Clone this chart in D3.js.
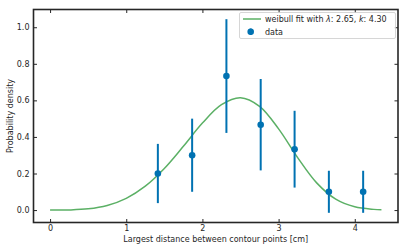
<!DOCTYPE html>
<html><head><meta charset="utf-8">
<script src="https://cdn.jsdelivr.net/npm/d3@7"></script>
<style>
html,body{margin:0;padding:0;background:#fff;}
svg text{font-family:"DejaVu Sans",sans-serif;}
</style></head>
<body><svg id="c" width="407" height="252"></svg>
<script>
// data points (bin centres), densities and error bars
const binX = [1.415, 1.865, 2.315, 2.765, 3.21, 3.66, 4.11];
const density = [0.200, 0.300, 0.733, 0.467, 0.333, 0.100, 0.100];
const errors = [0.162, 0.200, 0.311, 0.250, 0.210, 0.115, 0.115];
// weibull fit curve samples (lambda 2.65, k 4.30)
const fitX = [0, 0.25, 0.5, 0.75, 1.0, 1.25, 1.5, 1.75, 2.0, 2.25, 2.5, 2.75, 3.0, 3.25, 3.5, 3.75, 4.0, 4.25, 4.35];
const fitY = [0, 0.0007, 0.0066, 0.0251, 0.0641, 0.1306, 0.2275, 0.3489, 0.4758, 0.5765, 0.6147, 0.5676, 0.4443, 0.2872, 0.1488, 0.0596, 0.0178, 0.0038, 0.0018];
const xTicks = [0, 1, 2, 3, 4];
const yTicks = [0.0, 0.2, 0.4, 0.6, 0.8, 1.0];

const svg = d3.select("#c");
const L = 33.5, R = 398, T = 9.5, B = 222.5;
const x = d3.scaleLinear().domain([-0.2175, 4.5675]).range([L, R]);
const y = d3.scaleLinear().domain([-0.068, 1.097]).range([B, T]);
const dark = "#262626";
const blue = "#0072B2", green = "#5bb065";

// curve
const line = d3.line().x((d,i)=>x(fitX[i])).y((d,i)=>y(fitY[i])).curve(d3.curveCatmullRom);
svg.append("path").datum(fitY).attr("d", line).attr("fill","none")
  .attr("stroke", green).attr("stroke-width", 1.5);

// error bars
svg.append("g").selectAll("line").data(binX).join("line")
  .attr("x1", d=>x(d)).attr("x2", d=>x(d))
  .attr("y1", (d,i)=>y(density[i]-errors[i])).attr("y2", (d,i)=>y(density[i]+errors[i]))
  .attr("stroke", blue).attr("stroke-width", 2);
svg.append("g").selectAll("circle").data(binX).join("circle")
  .attr("cx", d=>x(d)).attr("cy", (d,i)=>y(density[i])).attr("r", 3.3).attr("fill", blue);

// axes with inward ticks
const fmtY = d3.format(".1f");
function styleAxis(g){
  g.select(".domain").remove();
  g.selectAll(".tick line").attr("stroke", dark).attr("stroke-width", 1);
  g.selectAll(".tick text").attr("fill", dark).attr("font-size", "8px");
}
svg.append("g").attr("transform",`translate(0,${B})`)
  .call(d3.axisBottom(x).tickValues(xTicks).tickSizeInner(-3.5).tickPadding(3).tickFormat(d3.format("d")))
  .call(styleAxis);
svg.append("g").attr("transform",`translate(0,${T})`)
  .call(d3.axisTop(x).tickValues(xTicks).tickSizeInner(-3.5).tickFormat(""))
  .call(styleAxis);
svg.append("g").attr("transform",`translate(${L},0)`)
  .call(d3.axisLeft(y).tickValues(yTicks).tickSizeInner(-3.5).tickPadding(4).tickFormat(fmtY))
  .call(styleAxis);
svg.append("g").attr("transform",`translate(${R},0)`)
  .call(d3.axisRight(y).tickValues(yTicks).tickSizeInner(-3.5).tickFormat(""))
  .call(styleAxis);

// frame
svg.append("rect").attr("x", L).attr("y", T).attr("width", R-L).attr("height", B-T)
  .attr("fill","none").attr("stroke", dark).attr("stroke-width", 1.6);

// labels
svg.append("text").attr("x", (L+R)/2).attr("y", 241.5).attr("text-anchor","middle")
  .attr("font-size","8px").attr("fill", dark).text("Largest distance between contour points [cm]");
svg.append("text").attr("transform",`translate(12.5,${(T+B)/2}) rotate(-90)`).attr("text-anchor","middle")
  .attr("font-size","8px").attr("fill", dark).text("Probability density");

// legend
const lg = svg.append("g");
lg.append("rect").attr("x", 239.5).attr("y", 12.5).attr("width", 156).attr("height", 26)
  .attr("rx", 1.5).attr("fill","#fff").attr("fill-opacity",0.8).attr("stroke","#cccccc").attr("stroke-width",0.8);
lg.append("line").attr("x1",243).attr("x2",261).attr("y1",19).attr("y2",19).attr("stroke",green).attr("stroke-width",1.5);
const t1 = lg.append("text").attr("x",265).attr("y",22).attr("font-size","8px").attr("fill",dark);
t1.append("tspan").text("weibull fit with ");
t1.append("tspan").attr("font-style","italic").text("λ");
t1.append("tspan").text(":  2.65, ");
t1.append("tspan").attr("font-style","italic").text("k");
t1.append("tspan").text(":  4.30");
lg.append("line").attr("x1",250.7).attr("x2",250.7).attr("y1",28.5).attr("y2",35).attr("stroke",blue).attr("stroke-width",2);
lg.append("circle").attr("cx",250.7).attr("cy",31.7).attr("r",3.3).attr("fill",blue);
lg.append("text").attr("x",265).attr("y",34.5).attr("font-size","8px").attr("fill",dark).text("data");
</script></body></html>
